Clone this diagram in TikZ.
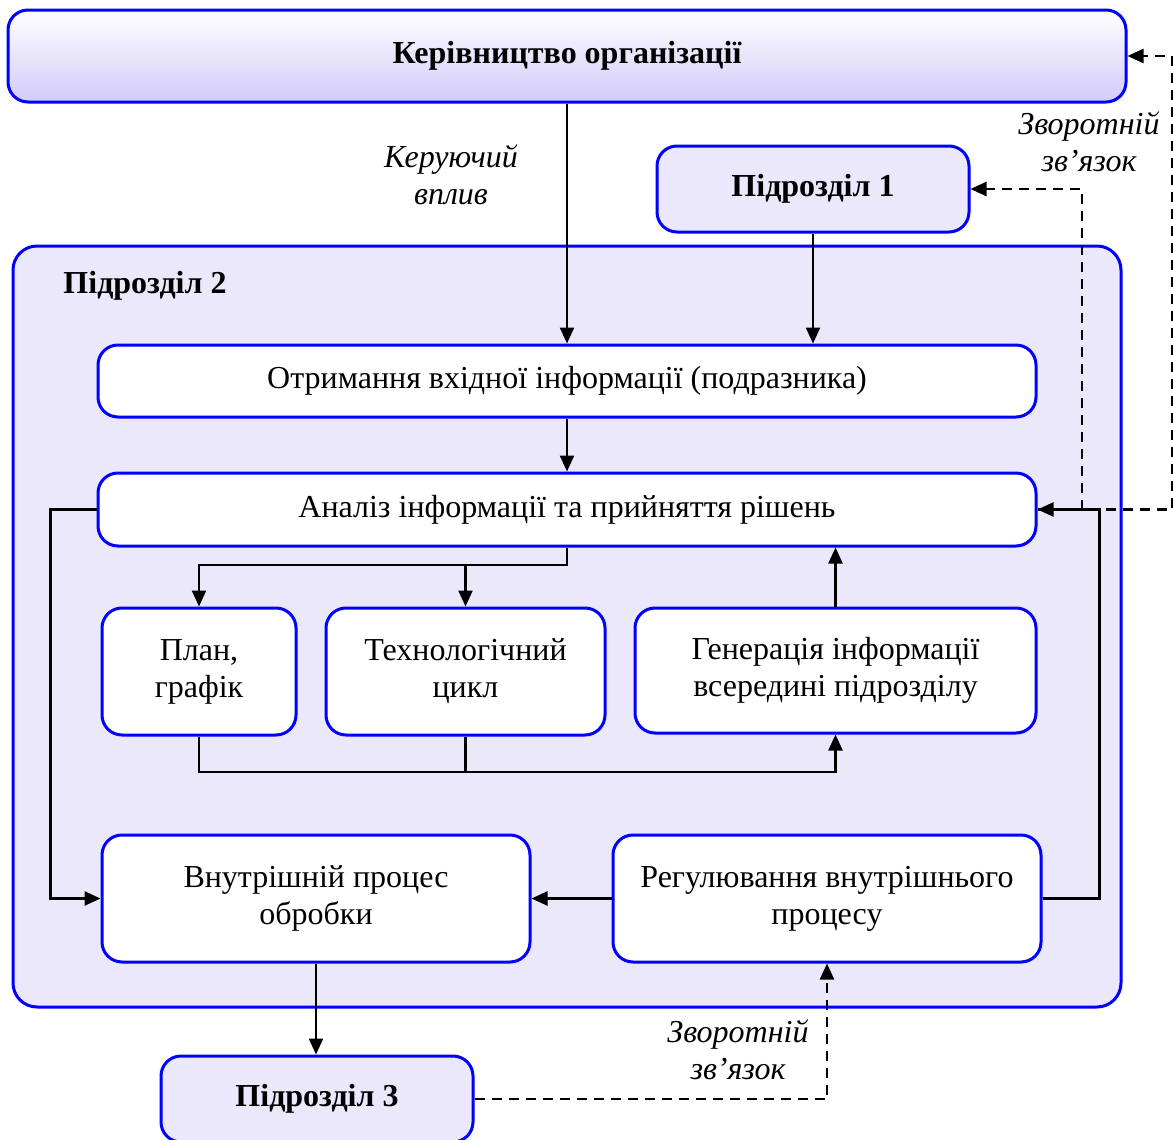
\documentclass[tikz,border=0pt]{standalone}
\usepackage{fontspec}
\setmainfont{Liberation Serif}
\usetikzlibrary{arrows.meta, positioning, calc}
\definecolor{framecolor}{RGB}{0, 0, 255}
\definecolor{unitcolor}{RGB}{235, 232, 252}
\definecolor{leadcolor}{RGB}{210, 203, 250}

\begin{document}
\begin{tikzpicture}[x=0.5pt, y=-0.5pt,
        box/.style={draw=framecolor, line width=1.5pt, rounded corners=10pt, fill=white, align=center, inner sep=2pt, font=\fontsize{16}{18.5}\selectfont},
        unitbox/.style={box, fill=unitcolor, font=\fontsize{16}{18.5}\selectfont\bfseries},
        link/.style={-{Triangle[length=8pt, width=7pt]}, line width=1.2pt},
        feedback/.style={link, dash pattern=on 5pt off 3.5pt},
        note/.style={align=center, font=\fontsize{16}{18.5}\selectfont\itshape}]
        \useasboundingbox (0,0) rectangle (1174,1140);

        % Management and unit 2 frame
        \node[unitbox, top color=white, bottom color=leadcolor, minimum width=559pt, minimum height=46pt] (lead) at (567,56) {Керівництво організації};
        \node[box, fill=unitcolor, rounded corners=12pt, minimum width=554pt, minimum height=380.5pt] (sub2) at (567,626.5) {};
        \node[font=\fontsize{16}{18.5}\selectfont\bfseries] (sub2title) at (145,286) {Підрозділ 2};

        % Neighbour units
        \node[unitbox, minimum width=156pt, minimum height=43pt] (sub1) at (813,189) {Підрозділ 1};
        \node[unitbox, minimum width=156pt, minimum height=43pt] (sub3) at (317,1099) {Підрозділ 3};

        % Steps inside unit 2
        \node[box, minimum width=469pt, minimum height=36pt] (input) at (567,381) {Отримання вхідної інформації (подразника)};
        \node[box, minimum width=469pt, minimum height=36.5pt] (analysis) at (567,509.5) {Аналіз інформації та прийняття рішень};
        \node[box, minimum width=97pt, minimum height=63.5pt] (plan) at (199,671.5) {План,\\графік};
        \node[box, minimum width=139.5pt, minimum height=63.5pt] (cycle) at (465.5,671.5) {Технологічний\\цикл};
        \node[box, minimum width=200.5pt, minimum height=62.5pt] (gen) at (835.5,670.5) {Генерація інформації\\всередині підрозділу};
        \node[box, minimum width=214pt, minimum height=63.5pt] (proc) at (316,898.5) {Внутрішній процес\\обробки};
        \node[box, minimum width=214pt, minimum height=63.5pt] (reg) at (827,898.5) {Регулювання внутрішнього\\процесу};

        % Main flow
        \draw[link] (lead.south) -- (input.north);
        \draw[link] (sub1.south) -- (sub1.south |- input.north);
        \draw[link] (input) -- (analysis);
        \coordinate (split) at (567,565);
        \draw[link] (analysis.south) -- (split) -| (plan.north);
        \draw[link] (split -| cycle.north) -- (cycle.north);
        \draw[link] (gen.north) -- (gen.north |- analysis.south);
        \coordinate (merge) at (199,772);
        \draw[link] (plan.south) -- (merge) -| (gen.south);
        \draw[line width=1.2pt] (cycle.south) -- (cycle.south |- merge);
        \draw[link] (analysis.west) -- ++(-46,0) |- (proc.west);
        \draw[link] (reg.west) -- (proc.east);
        \draw[link] (reg.east) -- ++(57,0) |- (analysis.east);
        \draw[link] (proc.south) -- (proc.south |- sub3.north);

        % Feedback
        \coordinate (fbouter) at (1172,509.5);
        \coordinate (fbinner) at (1082,509.5);
        \draw[feedback] (analysis.east) -- (fbouter) |- (lead.east);
        \draw[feedback] (fbinner) |- (sub1.east);
        \draw[feedback] (sub3.east) -| (reg.south);

        % Labels
        \node[note] (ctrl) at (451,175) {Керуючий\\вплив};
        \node[note] (fbnote1) at (1089,142) {Зворотній\\зв’язок};
        \node[note] (fbnote2) at (738,1050) {Зворотній\\зв’язок};
\end{tikzpicture}
\end{document}
